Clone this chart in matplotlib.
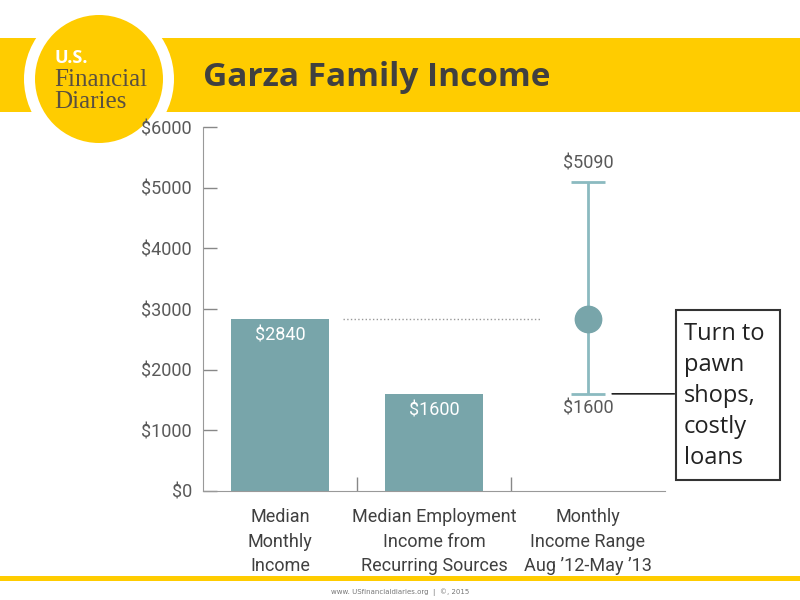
import matplotlib.pyplot as plt
from matplotlib.patches import Circle, Rectangle

categories = ["Median\nMonthly\nIncome", "Median Employment\nIncome from\nRecurring Sources", "Monthly\nIncome Range\nAug \u201912-May \u201913"]
bar_values = [2840, 1600]
range_mid = 2840
range_low = 1600
range_high = 5090
y_ticks = [0, 1000, 2000, 3000, 4000, 5000, 6000]
note_text = "Turn to\npawn\nshops,\ncostly\nloans"

narrow = "Roboto"
yellow = "#FFCC00"
teal = "#78A5AA"
teal_light = "#8BBAC0"
gray = "#595959"


def main():
    fig = plt.figure(figsize=(8, 6), dpi=100)

    # header / footer decoration in pixel coords
    bg = fig.add_axes([0, 0, 1, 1])
    bg.set_xlim(0, 800)
    bg.set_ylim(600, 0)
    bg.axis("off")
    bg.add_patch(Rectangle((0, 38), 800, 74, color=yellow, lw=0))
    bg.add_patch(Circle((99, 79), 75, color="white", lw=0))
    bg.add_patch(Circle((99, 79), 64, color=yellow, lw=0))
    bg.text(55, 58, "U.S.", color="white", fontsize=13, fontweight="bold",
            family="Open Sans", va="center", ha="left")
    bg.text(54, 80, "Financial", color="#5a5040", fontsize=18,
            family="Liberation Serif", va="center", ha="left")
    bg.text(54, 102, "Diaries", color="#5a5040", fontsize=18,
            family="Liberation Serif", va="center", ha="left")
    bg.text(203, 78, "Garza Family Income", color="#404040", fontsize=24,
            fontweight="bold", family="Open Sans", va="center", ha="left")
    bg.add_patch(Rectangle((0, 576), 800, 5, color=yellow, lw=0))
    bg.text(400, 592, "www. USfinancialdiaries.org  |  \u00a9, 2015", color="#777777",
            fontsize=5, ha="center", va="center")

    ax = fig.add_axes([0.254, 0.182, 0.577, 0.606])
    x = list(range(len(categories)))
    ax.bar(x[:2], bar_values, width=0.64, color=teal, zorder=2)
    for xi, v in zip(x[:2], bar_values):
        ax.text(xi, v - 280, f"${v}", color="white", ha="center", va="center",
                fontsize=13, family=narrow)

    ax.errorbar([x[2]], [range_mid], yerr=[[range_mid - range_low], [range_high - range_mid]],
                fmt="none", ecolor=teal_light, elinewidth=2, capsize=12,
                capthick=2, zorder=3)
    ax.plot([x[2]], [range_mid], "o", color=teal, ms=19, zorder=4)
    ax.text(x[2], range_high + 310, f"${range_high}", color=gray, ha="center",
            va="center", fontsize=13, family=narrow)
    ax.text(x[2], range_low - 250, f"${range_low}", color=gray, ha="center",
            va="center", fontsize=13, family=narrow)
    ax.plot([0.41, 1.69], [range_mid, range_mid], ls=":", color="#999999",
            lw=1, zorder=1)

    ax.set_xlim(-0.5, 2.5)
    ax.set_ylim(0, 6000)
    ax.set_yticks(y_ticks)
    ax.set_yticklabels([f"${t}" for t in y_ticks], fontsize=13, color=gray, family=narrow)
    ax.set_xticks([0.5, 1.5])
    ax.set_xticklabels([])
    ax.tick_params(axis="both", direction="in", length=10, color="#888888", width=1)
    ax.tick_params(axis="y", pad=8)
    for s in ["top", "right"]:
        ax.spines[s].set_visible(False)
    for s in ["left", "bottom"]:
        ax.spines[s].set_color("#999999")
    for xi, lab in zip(x, categories):
        ax.text(xi, -290, lab, ha="center", va="top", fontsize=13, color="#404040",
                family=narrow, linespacing=1.45)

    # annotation
    ax.annotate("", xy=(x[2] + 0.14, range_low), xytext=(2.58, range_low),
                arrowprops=dict(arrowstyle="-", color="#222222", lw=1.2),
                annotation_clip=False)
    bg.add_patch(Rectangle((676, 310), 104, 170, fill=False, ec="#333333", lw=1.5))
    bg.text(684, 396, note_text, fontsize=17, color="#222222", family="Open Sans",
            ha="left", va="center", linespacing=1.4)

    fig.savefig("out.png", dpi=100)


if __name__ == "__main__":
    main()
